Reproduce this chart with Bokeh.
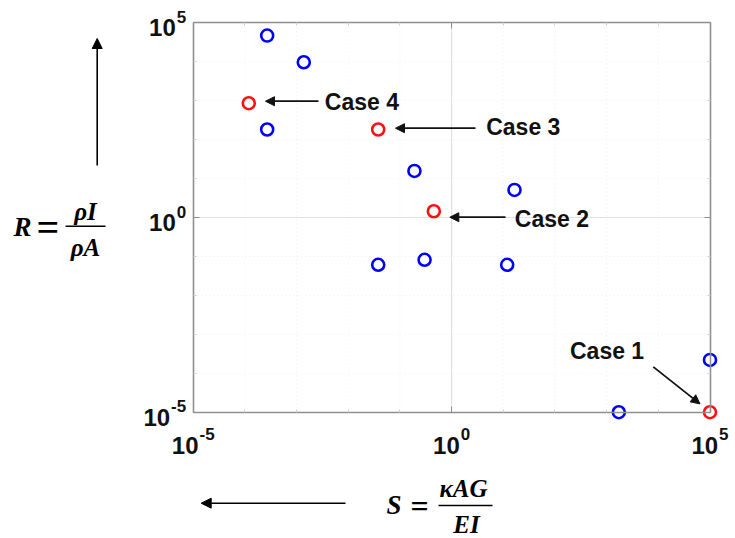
from bokeh.plotting import figure
from bokeh.models import Range1d, FixedTicker, LogAxis, Arrow, NormalHead
from bokeh.core.properties import value
from bokeh.embed import file_html
from bokeh.resources import INLINE

# Parameter sweep: S = kAG/EI (shear vs bending stiffness), R = rhoI/rhoA (rotary vs translational inertia)
sweep_S = [2.7e-4, 1.38e-3, 2.7e-4, 0.191, 16.5, 0.038, 0.30, 11.9, 1.0e5, 1.72e3]
sweep_R = [4.7e4, 9.7e3, 182.0, 15.7, 5.1, 0.061, 0.082, 0.061, 2.2e-4, 1.0e-5]

# Selected cases
case_names = ["Case 1", "Case 2", "Case 3", "Case 4"]
case_S = [1.0e5, 0.453, 0.038, 1.19e-4]
case_R = [1.0e-5, 1.45, 182.0, 861.0]

# Axis ticks (both axes)
major_ticks = [1e-5, 1e0, 1e5]
tick_exponents = ["-5", "0", "5"]
minor_ticks = [1e-4, 1e-3, 1e-2, 1e-1, 1e1, 1e2, 1e3, 1e4]

# ---- layout -------------------------------------------------------------
W, H = 735, 538
BOX_L, BOX_R, BOX_T, BOX_B = 192.7, 709.5, 22.3, 411.7   # pixel edges of the axes box
LO, HI = -5.0, 5.0                                      # decades spanned by the box
XPD = (BOX_R - BOX_L) / (HI - LO)
YPD = (BOX_B - BOX_T) / (HI - LO)


def at_x(px):
    return 10 ** (LO + (px - BOX_L) / XPD)


def at_y(py):
    return 10 ** (HI - (py - BOX_T) / YPD)


def shift(x, y, dx, dy):
    """Move a data point by (dx, dy) screen pixels (dy positive = down)."""
    return x * 10 ** (dx / XPD), y * 10 ** (-dy / YPD)


p = figure(width=W, height=H, x_axis_type="log", y_axis_type="log",
           x_range=Range1d(at_x(0), at_x(W)), y_range=Range1d(at_y(H), at_y(0)),
           output_backend="svg", toolbar_location=None, min_border=0,
           outline_line_color=None, background_fill_color="white",
           border_fill_color="white")
p.xgrid.visible = False
p.ygrid.visible = False

ticker = FixedTicker(ticks=major_ticks, minor_ticks=minor_ticks)
AX_COLOR = "#8f8f8f"
lo, hi = major_ticks[0], major_ticks[-1]

# ---- grid, kept inside the axes box --------------------------------------
inner = major_ticks[1:-1]
p.segment(x0=minor_ticks, y0=[lo] * len(minor_ticks), x1=minor_ticks, y1=[hi] * len(minor_ticks),
          line_color="#efefef", line_width=1, line_dash="1 3")
p.segment(x0=[lo] * len(minor_ticks), y0=minor_ticks, x1=[hi] * len(minor_ticks), y1=minor_ticks,
          line_color="#efefef", line_width=1, line_dash="1 3")
p.segment(x0=inner, y0=[lo] * len(inner), x1=inner, y1=[hi] * len(inner),
          line_color="#e0e0e0", line_width=1.2)
p.segment(x0=[lo] * len(inner), y0=inner, x1=[hi] * len(inner), y1=inner,
          line_color="#e0e0e0", line_width=1.2)


def style_axis(ax):
    ax.ticker = ticker
    ax.bounds = (lo, hi)
    ax.axis_line_color = AX_COLOR
    ax.axis_line_width = 1.6
    ax.major_tick_line_color = AX_COLOR
    ax.minor_tick_line_color = "#d0d0d0"
    ax.major_tick_in = 6
    ax.major_tick_out = 0
    ax.minor_tick_in = 3
    ax.minor_tick_out = 0
    ax.major_label_text_color = None


xa = p.xaxis[0]
xa.fixed_location = lo
style_axis(xa)
ya = p.yaxis[0]
ya.fixed_location = lo
style_axis(ya)

top = LogAxis(fixed_location=hi)
style_axis(top)
p.add_layout(top, "above")
right = LogAxis(fixed_location=hi)
style_axis(right)
p.add_layout(right, "right")

# ---- tick labels: "10" with a raised exponent ---------------------------
BASE_PX, EXP_PX = 24, 17
ADV = {"1": 0.556, "0": 0.556, "5": 0.556, "-": 0.333}   # Liberation Sans Bold advances


def text_w(s, size):
    return sum(ADV[c] for c in s) * size


w10 = text_w("10", BASE_PX)
tick_font = dict(text_font=value("Liberation Sans"), text_font_style="bold",
                 text_color="#111111", text_baseline="middle")

bx, by, ex, ey = [], [], [], []
for t, e in zip(major_ticks, tick_exponents):
    total = w10 + 1 + text_w(e, EXP_PX)
    x0, y0 = shift(t, lo, -total / 2, 33)
    x1, y1 = shift(t, lo, -total / 2 + w10 + 1, 22)
    bx.append(x0); by.append(y0); ex.append(x1); ey.append(y1)
p.text(bx, by, text=["10"] * 3, text_align="left", text_font_size=f"{BASE_PX}px", **tick_font)
p.text(ex, ey, text=tick_exponents, text_align="left", text_font_size=f"{EXP_PX}px", **tick_font)

bx, by, ex, ey = [], [], [], []
for t, e in zip(major_ticks, tick_exponents):
    x1, y1 = shift(lo, t, -7, -6)
    x0, y0 = shift(lo, t, -7 - text_w(e, EXP_PX) - 1, 5)
    bx.append(x0); by.append(y0); ex.append(x1); ey.append(y1)
p.text(bx, by, text=["10"] * 3, text_align="right", text_font_size=f"{BASE_PX}px", **tick_font)
p.text(ex, ey, text=tick_exponents, text_align="right", text_font_size=f"{EXP_PX}px", **tick_font)

# ---- markers -------------------------------------------------------------
p.scatter(sweep_S, sweep_R, marker="circle", size=12, fill_color=None,
          line_color="#0000ff", line_width=2.6)
p.scatter(case_S, case_R, marker="circle", size=12, fill_color=None,
          line_color="#ff1010", line_width=2.6)

# ---- case callouts -------------------------------------------------------
label_off = {"Case 1": (-140, -61), "Case 2": (81, 8), "Case 3": (108, -2), "Case 4": (76, -1)}
arrow_off = {"Case 1": ((-56.7, -45.3), (-10, -8.3)),
             "Case 2": ((71.7, 6.0), (16.0, 6.0)),
             "Case 3": ((97.3, -1.3), (17.3, -1.3)),
             "Case 4": ((69.7, -2.0), (16.7, -2.0))}

lx, ly = [], []
for name, s, r in zip(case_names, case_S, case_R):
    dx, dy = label_off[name]
    x, y = shift(s, r, dx, dy)
    lx.append(x); ly.append(y)
    (sx0, sy0), (sx1, sy1) = arrow_off[name]
    xs, ys = shift(s, r, sx0, sy0)
    xe, ye = shift(s, r, sx1, sy1)
    p.add_layout(Arrow(x_start=xs, y_start=ys, x_end=xe, y_end=ye,
                       line_color="#111111", line_width=1.8,
                       end=NormalHead(size=9, fill_color="#111111", line_color="#111111")))
p.text(lx, ly, text=case_names, text_align="left", text_baseline="middle",
       text_font=value("Liberation Sans"), text_font_style="bold",
       text_font_size="23px", text_color="#111111")

# ---- axis titles with direction arrows -----------------------------------
p.add_layout(Arrow(x_start=at_x(96.7), y_start=at_y(165), x_end=at_x(96.7), y_end=at_y(38),
                   line_color="black", line_width=1.6,
                   end=NormalHead(size=10, fill_color="black", line_color="black")))
p.add_layout(Arrow(x_start=at_x(345), y_start=at_y(502.7), x_end=at_x(200.7), y_end=at_y(502.7),
                   line_color="black", line_width=1.6,
                   end=NormalHead(size=10, fill_color="black", line_color="black")))

math_font = dict(text_font=value("Liberation Serif"), text_font_style="bold italic",
                 text_color="black", text_baseline="middle")
eq_font = dict(text_font=value("Liberation Serif"), text_font_style="bold",
               text_color="black", text_baseline="middle", text_align="center")

# R = rho I / rho A
p.text([at_x(13)], [at_y(226.5)], text=["R"], text_align="left", text_font_size="27px", **math_font)
p.text([at_x(47.5)], [at_y(227)], text=["="], text_font_size="40px", **eq_font)
p.segment(x0=[at_x(65)], y0=[at_y(225.7)], x1=[at_x(105)], y1=[at_y(225.7)],
          line_color="black", line_width=1.5)
p.text([at_x(85), at_x(85)], [at_y(211), at_y(247)], text=["ρI", "ρA"], text_align="center",
       text_font_size="25px", **math_font)

# S = kappa A G / E I
p.text([at_x(386)], [at_y(504)], text=["S"], text_align="left", text_font_size="27px", **math_font)
p.text([at_x(419)], [at_y(505)], text=["="], text_font_size="32px", **eq_font)
p.segment(x0=[at_x(438)], y0=[at_y(505)], x1=[at_x(492)], y1=[at_y(505)],
          line_color="black", line_width=1.5)
p.text([at_x(463), at_x(466)], [at_y(487.5), at_y(523.5)], text=["κAG", "EI"], text_align="center",
       text_font_size="25px", **math_font)

open("out.html", "w").write(file_html(p, INLINE))
